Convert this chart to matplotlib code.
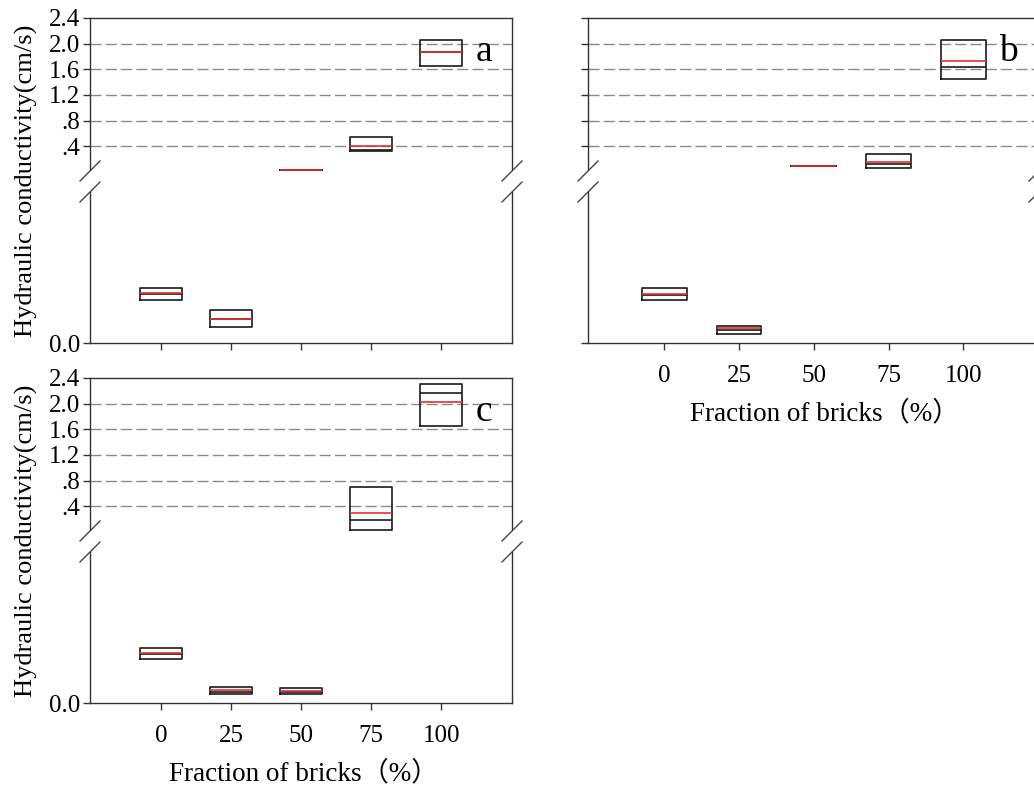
import numpy as np
import matplotlib
matplotlib.use('Agg')
import matplotlib.pyplot as plt

# ---------------- data ----------------
fractions = [0, 25, 50, 75, 100]
x_tick_labels = ['0', '25', '50', '75', '100']
y_tick_values = [0.0, 0.4, 0.8, 1.2, 1.6, 2.0, 2.4]
y_tick_labels = ['0.0', '.4', '.8', '1.2', '1.6', '2.0', '2.4']
grid_values = [0.4, 0.8, 1.2, 1.6, 2.0]

# panel a
a_q1 = [0.00285, 0.00104, 0.025, 0.32, 1.65]
a_q3 = [0.00364, 0.00219, 0.025, 0.545, 2.056]
a_median = [0.00327, 0.00159, 0.025, 0.34, 1.864]
a_mean = [0.00331, 0.00159, 0.025, 0.405, 1.864]

# panel b
b_q1 = [0.00285, 0.00062, 0.098, 0.067, 1.452]
b_q3 = [0.00361, 0.00115, 0.098, 0.28, 2.052]
b_median = [0.00320, 0.00086, 0.098, 0.12, 1.63]
b_mean = [0.00326, 0.00097, 0.098, 0.161, 1.723]

# panel c
c_q1 = [0.00289, 0.00060, 0.00060, 0.025, 1.647]
c_q3 = [0.00366, 0.00106, 0.00097, 0.70, 2.305]
c_median = [0.00325, 0.00073, 0.00070, 0.18, 2.163]
c_mean = [0.00329, 0.00086, 0.00081, 0.29, 2.03]

# broken y axis: lower segment 0-0.01, gap 0.01-0.015, upper 0.015-2.4
seg_vals = [-1.0, 0.0, 0.01, 0.015, 2.4, 10.0]
seg_pos = [-15100.0, 0.0, 151.0, 172.0, 325.0, 325.0 + 7.6 * 64.2]


def fwd(v):
    return np.interp(v, seg_vals, seg_pos)


def inv(p):
    return np.interp(p, seg_pos, seg_vals)


W, H = 1034, 785
fig = plt.figure(figsize=(W / 100, H / 100), dpi=100)

SERIF = ['Liberation Serif', 'DejaVu Serif']
MIXED = ['Liberation Serif', 'Noto Sans CJK SC', 'DejaVu Sans']
plt.rcParams['font.family'] = SERIF

spine_col = '#333333'


def px_axes(left, top, right, bottom):
    return fig.add_axes([left / W, (H - bottom) / H, (right - left) / W, (bottom - top) / H])


def draw_break(ax, wpx, hpx):
    # two parallel slanted marks on each side spine, spine hidden between
    y_lo = fwd(0.01) / 325.0
    y_hi = fwd(0.015) / 325.0
    dx = 10.0 / wpx
    dy = 10.0 / hpx
    for xs in (0.0, 1.0):
        poly = plt.Polygon([(xs - dx, y_lo - dy), (xs + dx, y_lo + dy),
                            (xs + dx, y_hi + dy), (xs - dx, y_hi - dy)],
                           closed=True, transform=ax.transAxes, facecolor='white',
                           edgecolor='none', clip_on=False, zorder=5)
        ax.add_patch(poly)
        for yc in (y_lo, y_hi):
            ax.plot([xs - dx, xs + dx], [yc - dy, yc + dy], transform=ax.transAxes,
                    color='#444444', lw=1.0, clip_on=False, zorder=6)


def panel(ax, q1, q3, med, mean, letter, wpx, hpx, show_xlabels, show_ylabels, xlab_x=0.5):
    ax.set_yscale('function', functions=(fwd, inv))
    ax.set_ylim(0, 2.4)
    ax.set_xlim(-25.5, 125.3)
    for g in grid_values:
        ax.axhline(g, color='#8a8a8a', lw=1.0, dashes=(8, 3), zorder=0.5)
    stats = []
    for i in range(len(fractions)):
        stats.append(dict(med=med[i], q1=q1[i], q3=q3[i], whislo=q1[i], whishi=q3[i],
                          mean=mean[i], fliers=[]))
    ax.bxp(stats, positions=fractions, widths=15, showmeans=True, meanline=True,
           showcaps=False, showfliers=False, manage_ticks=False,
           boxprops=dict(color='#1a1a1a', lw=1.2),
           medianprops=dict(color='#1a1a1a', lw=1.2),
           meanprops=dict(color='#e8302c', lw=1.2, linestyle='-'),
           whiskerprops=dict(linestyle='none'))
    ax.set_xticks(fractions)
    ax.set_yticks(y_tick_values)
    ax.yaxis.set_minor_locator(matplotlib.ticker.NullLocator())
    if show_xlabels:
        ax.set_xticklabels(x_tick_labels)
        ax.set_xlabel('Fraction of bricks（%）', fontsize=19.5, family=MIXED)
        ax.xaxis.set_label_coords(xlab_x, -0.176)
    else:
        ax.set_xticklabels([])
    if show_ylabels:
        ax.set_yticklabels(y_tick_labels)
        ax.set_ylabel('Hydraulic conductivity(cm/s)', fontsize=19)
        ax.yaxis.set_label_coords(-0.123, 0.5)
    else:
        ax.set_yticklabels([])
    ax.tick_params(axis='x', direction='out', length=5, width=1, color=spine_col,
                   labelsize=18, pad=11)
    ax.tick_params(axis='y', direction='out', length=5, width=1, color=spine_col,
                   labelsize=18, pad=2)
    for s in ax.spines.values():
        s.set_color(spine_col)
        s.set_linewidth(1.0)
    ax.text(115.2, 1.88, letter, fontsize=27, ha='center', va='center')
    draw_break(ax, wpx, hpx)


ax_a = px_axes(90, 18, 512, 343)
panel(ax_a, a_q1, a_q3, a_median, a_mean, 'a', 422, 325, False, True)

ax_b = px_axes(588, 18, 1039, 343)
panel(ax_b, b_q1, b_q3, b_median, b_mean, 'b', 451, 325, True, False, xlab_x=0.525)

ax_c = px_axes(90, 378, 512, 703)
panel(ax_c, c_q1, c_q3, c_median, c_mean, 'c', 422, 325, True, True, xlab_x=0.507)

fig.savefig('out.png', dpi=100)
